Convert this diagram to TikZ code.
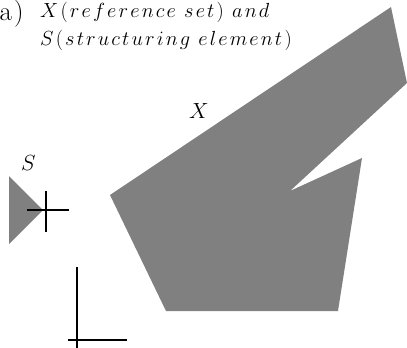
\RequirePackage{fix-cm}
\documentclass[tikz,border=0pt]{standalone}
\def\spc#1{\ifx#1\relax\else#1\mkern1.9mu\expandafter\spc\fi}
\begin{document}
\begin{tikzpicture}[x=1bp,y=-1bp,
  shapefill/.style={fill=black!50,draw=none},
  thickline/.style={line width=2.6bp},
  title/.style={inner sep=0pt,anchor=base west,font=\fontsize{20.5}{24}\selectfont},
  lbl/.style={inner sep=0pt,anchor=base west,font=\fontsize{22}{26}\selectfont}]
\useasboundingbox (0,0) rectangle (407,348);
% title
\node[inner sep=0pt,anchor=base west,font=\fontsize{27}{31}\selectfont] (a) at (-0.5,20.5) {a\kern2bp)};
\node[title] (t1) at (40,17.5) {$\spc X(reference\relax\ \spc set)\relax\ \spc and\relax$};
\node[title] (t2) at (40,45) {$\spc S(structuring\relax\ \spc element)\relax$};
% X shape
\fill[shapefill] (110,195) -- (391,7) -- (407,83) -- (290,191) -- (362,158) -- (338,311) -- (166,311) -- cycle;
\node[lbl] (xl) at (189,118) {$X$};
% S element
\fill[shapefill] (9,176) -- (43,210) -- (9,244) -- cycle;
\node[lbl] (sl) at (21,170) {$S$};
\draw[thickline] (27,210) -- (69,210);
\draw[thickline] (46,191) -- (46,232);
% axes
\draw[thickline] (77,267) -- (77,348);
\draw[thickline] (68,340) -- (127,340);
\end{tikzpicture}
\end{document}
